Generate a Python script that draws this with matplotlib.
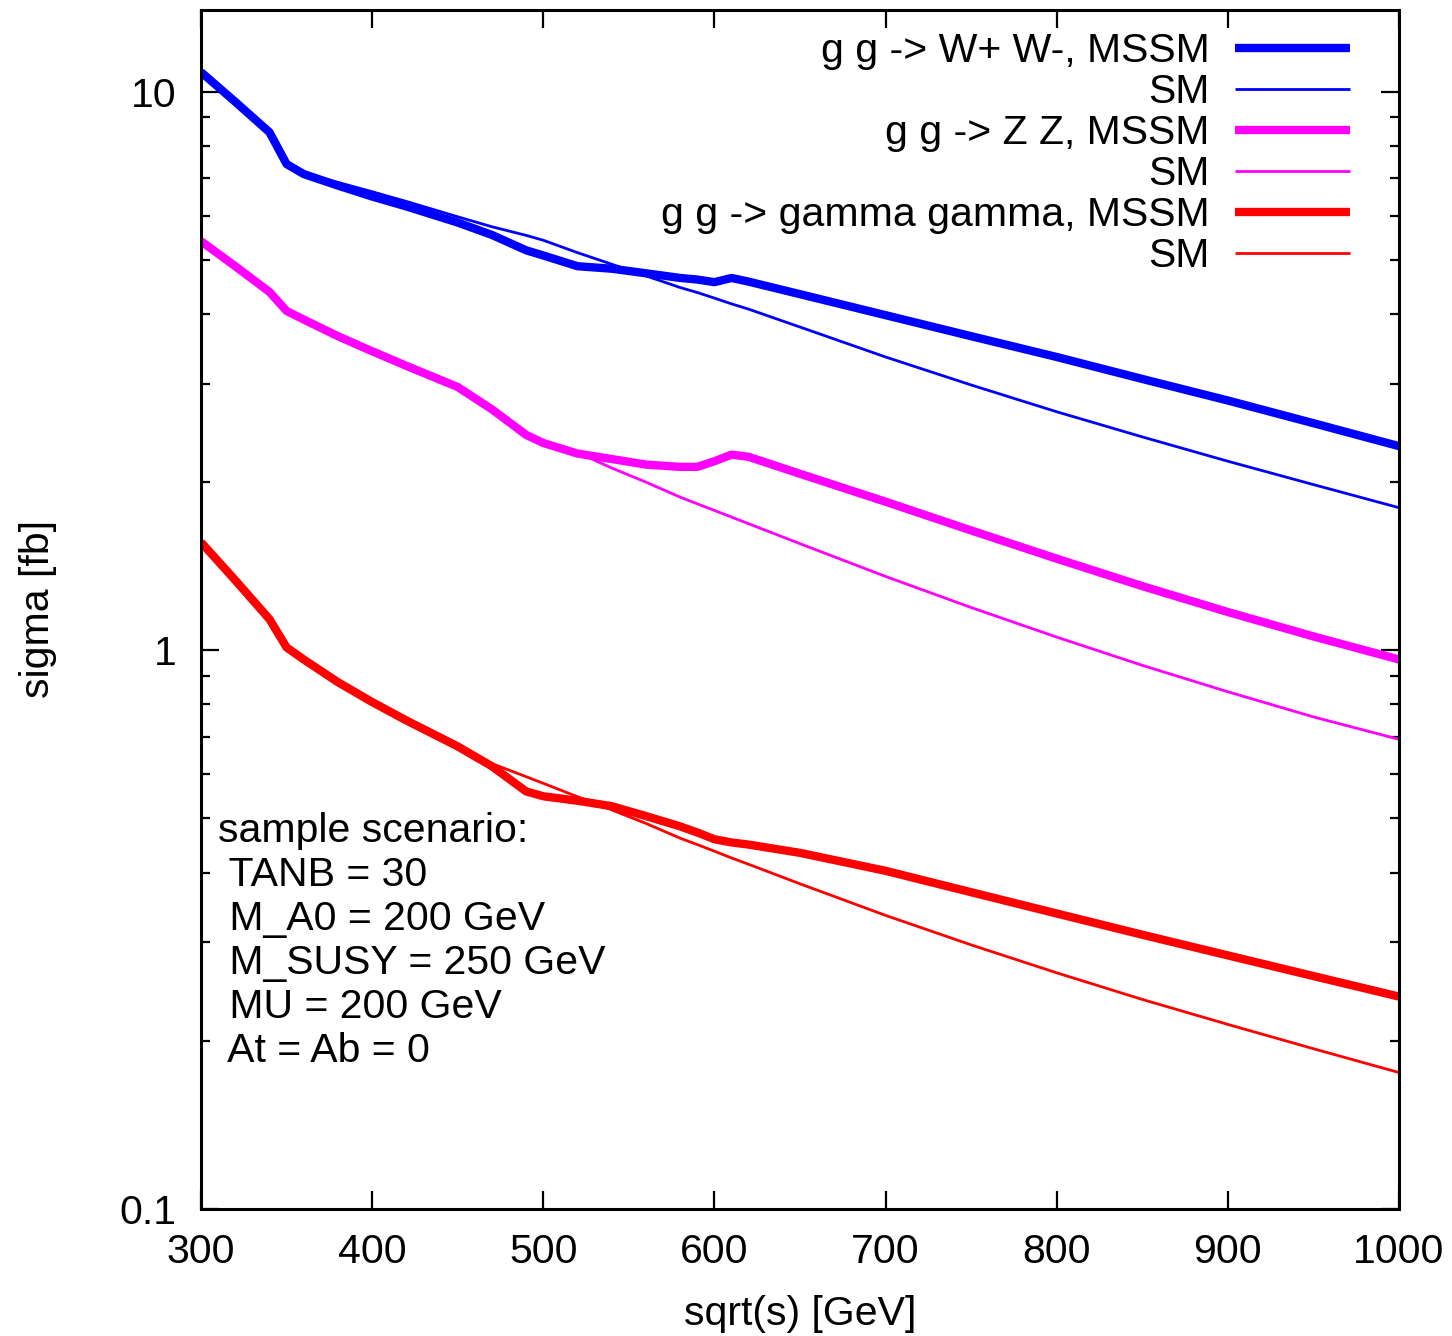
import matplotlib
matplotlib.use("Agg")
import matplotlib.pyplot as plt
from matplotlib.ticker import LogLocator, NullFormatter, FixedLocator, FixedFormatter

plt.rcParams["font.family"] = ["Liberation Sans", "DejaVu Sans"]

# sqrt(s) grid [GeV]
sqrt_s = [300, 320, 340, 350, 360, 380, 400, 420, 450, 470, 490, 500, 520, 540,
          560, 580, 590, 600, 610, 620, 650, 700, 750, 800, 850, 900, 950, 1000]

# sigma [fb]
ww_mssm = [10.84, 9.59, 8.46, 7.42, 7.12, 6.79, 6.49, 6.23, 5.83, 5.54, 5.20, 5.09,
           4.87, 4.82, 4.73, 4.64, 4.61, 4.56, 4.64, 4.57, 4.34, 3.98, 3.65, 3.35,
           3.06, 2.80, 2.55, 2.32]
ww_sm = [10.84, 9.59, 8.46, 7.42, 7.12, 6.88, 6.62, 6.36, 5.97, 5.73, 5.53, 5.42,
         5.15, 4.91, 4.68, 4.46, 4.37, 4.27, 4.17, 4.08, 3.79, 3.35, 2.985, 2.673,
         2.41, 2.18, 1.98, 1.80]
zz_mssm = [5.40, 4.87, 4.38, 4.05, 3.91, 3.65, 3.43, 3.23, 2.96, 2.70, 2.43, 2.35,
           2.25, 2.20, 2.15, 2.13, 2.13, 2.18, 2.24, 2.22, 2.07, 1.845, 1.639, 1.459,
           1.303, 1.171, 1.059, 0.963]
zz_sm = [5.40, 4.87, 4.38, 4.05, 3.91, 3.65, 3.43, 3.23, 2.96, 2.70, 2.45, 2.37,
         2.26, 2.12, 2.00, 1.88, 1.829, 1.780, 1.732, 1.685, 1.552, 1.356, 1.193, 1.056,
         0.940, 0.843, 0.760, 0.693]
aa_mssm = [1.561, 1.335, 1.137, 1.012, 0.963, 0.877, 0.808, 0.749, 0.673, 0.620,
           0.559, 0.548, 0.538, 0.526, 0.505, 0.484, 0.472, 0.459, 0.453, 0.449,
           0.434, 0.403, 0.369, 0.338, 0.3097, 0.2844, 0.2612, 0.240]
aa_sm = [1.561, 1.335, 1.137, 1.012, 0.963, 0.877, 0.808, 0.749, 0.673, 0.627,
         0.594, 0.578, 0.547, 0.518, 0.490, 0.461, 0.449, 0.437, 0.425, 0.414,
         0.382, 0.3354, 0.297, 0.2647, 0.2372, 0.214, 0.1936, 0.1755]

labels = ["g g -> W+ W-, MSSM", "SM", "g g -> Z Z, MSSM", "SM",
          "g g -> gamma gamma, MSSM", "SM"]
scenario = ("sample scenario:\n TANB = 30\n M_A0 = 200 GeV\n M_SUSY = 250 GeV\n"
            " MU = 200 GeV\n At = Ab = 0")

fs = 29.5
fig = plt.figure(figsize=(14.52, 13.36), dpi=100)
ax = fig.add_axes([201 / 1452, 127 / 1336, 1198 / 1452, 1199 / 1336])

series = [(ww_mssm, "#0000ff", 6.0), (ww_sm, "#0000ff", 2.0),
          (zz_mssm, "#ff00ff", 6.0), (zz_sm, "#ff00ff", 2.0),
          (aa_mssm, "#ff0000", 6.0), (aa_sm, "#ff0000", 2.0)]
for (vals, col, lw), lab in zip(series, labels):
    ax.plot(sqrt_s, vals, color=col, lw=lw, label=lab,
            solid_joinstyle="round", solid_capstyle="butt")

ax.set_yscale("log")
ax.set_xlim(300, 1000)
ax.set_ylim(0.1, 14.0)

ax.xaxis.set_major_locator(FixedLocator([300, 400, 500, 600, 700, 800, 900, 1000]))
ax.yaxis.set_major_locator(FixedLocator([0.1, 1, 10]))
ax.yaxis.set_major_formatter(FixedFormatter(["0.1", "1", "10"]))
ax.yaxis.set_minor_locator(LogLocator(base=10, subs=range(2, 10)))
ax.yaxis.set_minor_formatter(NullFormatter())

ax.tick_params(which="both", direction="in", top=True, right=True, width=1.6,
               color="black")
ax.tick_params(which="major", length=13)
ax.tick_params(which="minor", length=6.5)
ax.tick_params(axis="x", labelsize=fs, pad=17.5)
ax.tick_params(axis="y", labelsize=fs, pad=17.5)
for sp in ax.spines.values():
    sp.set_linewidth(2.2)

ax.set_xlabel("sqrt(s) [GeV]", fontsize=fs, labelpad=17)
ax.set_ylabel("sigma [fb]", fontsize=fs, labelpad=45)

ax.text(0.014, 0.331, scenario, transform=ax.transAxes, fontsize=fs,
        va="top", ha="left", linespacing=1.2)

leg = ax.legend(loc="upper right", bbox_to_anchor=((1350 - 201) / 1198, (1209 - 32) / 1199),
                frameon=False, markerfirst=False, alignment="right", fontsize=fs,
                handlelength=2.8, handletextpad=0.63, labelspacing=0.075,
                borderpad=0, borderaxespad=0)

fig.savefig("out.png", dpi=100)
